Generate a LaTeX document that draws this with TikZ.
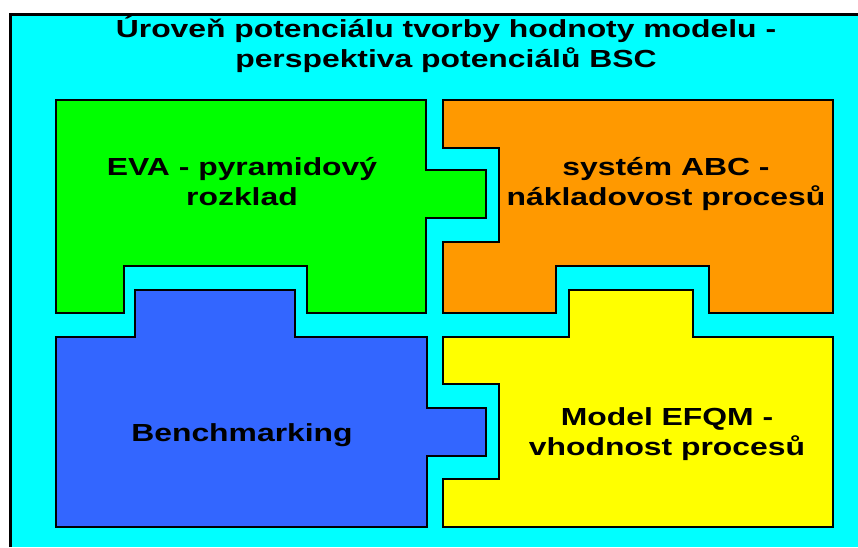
\documentclass[tikz,border=0pt]{standalone}
\usepackage{fontspec}
\setmainfont{Liberation Sans}[FakeStretch=1.29]
\begin{document}
\definecolor{bgcyan}{HTML}{00FFFF}
\definecolor{pgreen}{HTML}{00FF00}
\definecolor{porange}{HTML}{FF9900}
\definecolor{pblue}{HTML}{3366FF}
\definecolor{pyellow}{HTML}{FFFF00}
\begin{tikzpicture}[x=1pt, y=-1pt,
  piece/.style={draw=black, line width=2.4pt, line join=miter},
  label/.style={font=\fontsize{24.7}{29.5}\selectfont\bfseries, align=center, inner sep=0pt, anchor=base}]
  \useasboundingbox (0,0) rectangle (858,547);
  % slide background and frame
  \fill[bgcyan] (10,14) rectangle (858,547);
  \draw[line width=3pt] (10,547) -- (10,14) -- (858,14);
  % title (anchored at the baseline of its last line)
  \node[label] (title) at (446,67) {Úroveň potenciálu tvorby hodnoty modelu -\\perspektiva potenciálů BSC};
  % puzzle pieces
  \draw[piece, fill=pgreen] (56,100) -- (426,100) -- (426,170) -- (486,170) -- (486,218) -- (426,218)
    -- (426,313) -- (307,313) -- (307,266) -- (124,266) -- (124,313) -- (56,313) -- cycle;
  \draw[piece, fill=porange] (443,100) -- (833,100) -- (833,313) -- (709,313) -- (709,266) -- (556,266)
    -- (556,313) -- (443,313) -- (443,242) -- (499,242) -- (499,148) -- (443,148) -- cycle;
  \draw[piece, fill=pblue] (56,337) -- (135,337) -- (135,290) -- (295,290) -- (295,337) -- (427,337)
    -- (427,408) -- (486,408) -- (486,456) -- (427,456) -- (427,527) -- (56,527) -- cycle;
  \draw[piece, fill=pyellow] (443,337) -- (569,337) -- (569,290) -- (693,290) -- (693,337) -- (833,337)
    -- (833,527) -- (443,527) -- (443,479) -- (499,479) -- (499,384) -- (443,384) -- cycle;
  % piece labels
  \node[label] (eva) at (242,205) {EVA - pyramidový\\rozklad};
  \node[label] (abc) at (666,205) {systém ABC -\\nákladovost procesů};
  \node[label] (bench) at (242,441) {Benchmarking};
  \node[label] (efqm) at (667,455) {Model EFQM -\\vhodnost procesů};
\end{tikzpicture}
\end{document}
